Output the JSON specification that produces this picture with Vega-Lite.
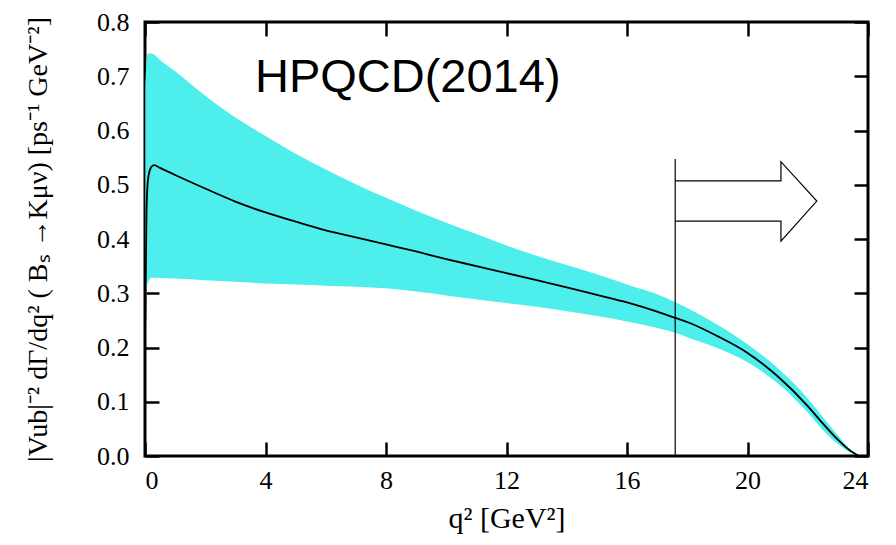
{
  "$schema": "https://vega.github.io/schema/vega-lite/v6.json",
  "width": 723,
  "height": 434,
  "autosize": "none",
  "padding": {"left": 145, "top": 22, "right": 28, "bottom": 89},
  "background": "white",
  "config": {
    "view": {"stroke": "black", "strokeWidth": 3},
    "axis": {
      "domain": false,
      "grid": false,
      "tickColor": "black",
      "tickWidth": 2.5,
      "tickSize": 14,
      "offset": -14,
      "labelFont": "Liberation Serif",
      "labelFontSize": 26,
      "labelColor": "black",
      "titleFont": "Liberation Serif",
      "titleFontSize": 28,
      "titleFontWeight": "normal",
      "titleColor": "black"
    }
  },
  "datasets": {
    "band": [
      {"q2": 0.01, "lower": 0.25, "central": 0.25, "upper": 0.68},
      {"q2": 0.05, "lower": 0.30, "central": 0.45, "upper": 0.73},
      {"q2": 0.1, "lower": 0.32, "central": 0.51, "upper": 0.742},
      {"q2": 0.2, "lower": 0.328, "central": 0.532, "upper": 0.742},
      {"q2": 0.3, "lower": 0.3285, "central": 0.536, "upper": 0.740},
      {"q2": 0.5, "lower": 0.328, "central": 0.531, "upper": 0.73},
      {"q2": 1, "lower": 0.327, "central": 0.518, "upper": 0.709},
      {"q2": 2, "lower": 0.324, "central": 0.493, "upper": 0.664},
      {"q2": 3, "lower": 0.321, "central": 0.469, "upper": 0.624},
      {"q2": 4, "lower": 0.318, "central": 0.449, "upper": 0.590},
      {"q2": 5, "lower": 0.316, "central": 0.432, "upper": 0.557},
      {"q2": 6, "lower": 0.314, "central": 0.416, "upper": 0.528},
      {"q2": 7, "lower": 0.312, "central": 0.403, "upper": 0.501},
      {"q2": 8, "lower": 0.309, "central": 0.390, "upper": 0.476},
      {"q2": 9, "lower": 0.303, "central": 0.377, "upper": 0.452},
      {"q2": 10, "lower": 0.296, "central": 0.363, "upper": 0.430},
      {"q2": 11, "lower": 0.289, "central": 0.350, "upper": 0.409},
      {"q2": 12, "lower": 0.282, "central": 0.337, "upper": 0.388},
      {"q2": 13, "lower": 0.275, "central": 0.324, "upper": 0.369},
      {"q2": 14, "lower": 0.267, "central": 0.311, "upper": 0.352},
      {"q2": 15, "lower": 0.258, "central": 0.297, "upper": 0.335},
      {"q2": 16, "lower": 0.248, "central": 0.283, "upper": 0.316},
      {"q2": 17, "lower": 0.236, "central": 0.266, "upper": 0.298},
      {"q2": 17.6, "lower": 0.227, "central": 0.2545, "upper": 0.2835},
      {"q2": 18, "lower": 0.219, "central": 0.247, "upper": 0.273},
      {"q2": 19, "lower": 0.199, "central": 0.221, "upper": 0.242},
      {"q2": 20, "lower": 0.173, "central": 0.190, "upper": 0.206},
      {"q2": 21, "lower": 0.134, "central": 0.147, "upper": 0.162},
      {"q2": 22, "lower": 0.080, "central": 0.092, "upper": 0.106},
      {"q2": 22.5, "lower": 0.048, "central": 0.060, "upper": 0.072},
      {"q2": 23, "lower": 0.022, "central": 0.030, "upper": 0.038},
      {"q2": 23.4, "lower": 0.007, "central": 0.010, "upper": 0.013},
      {"q2": 23.7, "lower": 0.0, "central": 0.0, "upper": 0.0}
    ],
    "arrow": [
      {"order": 1, "q2": 17.6, "v": 0.507},
      {"order": 2, "q2": 21.11, "v": 0.507},
      {"order": 3, "q2": 21.11, "v": 0.5425},
      {"order": 4, "q2": 22.30, "v": 0.470},
      {"order": 5, "q2": 21.11, "v": 0.396},
      {"order": 6, "q2": 21.11, "v": 0.433},
      {"order": 7, "q2": 17.6, "v": 0.433}
    ],
    "cut": [
      {"q2": 17.6, "v0": 0.0, "v1": 0.5475}
    ],
    "label": [
      {"q2": 3.65, "v": 0.671, "text": "HPQCD(2014)"}
    ]
  },
  "resolve": {"axis": {"x": "independent", "y": "independent"}},
  "layer": [
    {
      "data": {"name": "band"},
      "mark": {"type": "area", "color": "#4eeeec", "opacity": 1, "interpolate": "monotone"},
      "encoding": {
        "x": {
          "field": "q2", "type": "quantitative",
          "scale": {"domain": [0, 24], "nice": false, "zero": false},
          "axis": {
            "orient": "bottom",
            "values": [0, 4, 8, 12, 16, 20, 24],
            "labelPadding": 11,
            "title": "q² [GeV²]",
            "titleFontSize": 30,
            "titlePadding": 10
          }
        },
        "y": {
          "field": "lower", "type": "quantitative",
          "scale": {"domain": [0, 0.8], "nice": false},
          "axis": {
            "orient": "left",
            "values": [0, 0.1, 0.2, 0.3, 0.4, 0.5, 0.6, 0.7, 0.8],
            "format": ".1f",
            "labelPadding": 16,
            "title": "|Vub|⁻² dΓ/dq² ( Bₛ →Kμν)  [ps⁻¹ GeV⁻²]",
            "titlePadding": 44
          }
        },
        "y2": {"field": "upper"}
      }
    },
    {
      "data": {"name": "band"},
      "mark": {"type": "line", "color": "black", "strokeWidth": 1.8, "interpolate": "monotone"},
      "encoding": {
        "x": {
          "field": "q2", "type": "quantitative",
          "scale": {"domain": [0, 24], "nice": false, "zero": false},
          "axis": {"orient": "top", "values": [0, 4, 8, 12, 16, 20, 24], "labels": false, "title": null}
        },
        "y": {
          "field": "central", "type": "quantitative",
          "scale": {"domain": [0, 0.8], "nice": false},
          "axis": {"orient": "right", "values": [0, 0.1, 0.2, 0.3, 0.4, 0.5, 0.6, 0.7, 0.8], "labels": false, "title": null}
        }
      }
    },
    {
      "data": {"name": "cut"},
      "mark": {"type": "rule", "color": "black", "strokeWidth": 1.2},
      "encoding": {
        "x": {"field": "q2", "type": "quantitative", "axis": null},
        "y": {"field": "v0", "type": "quantitative", "axis": null},
        "y2": {"field": "v1"}
      }
    },
    {
      "data": {"name": "arrow"},
      "mark": {"type": "line", "color": "black", "strokeWidth": 1.2},
      "encoding": {
        "x": {"field": "q2", "type": "quantitative", "axis": null},
        "y": {"field": "v", "type": "quantitative", "axis": null},
        "order": {"field": "order", "type": "quantitative"}
      }
    },
    {
      "data": {"name": "label"},
      "mark": {"type": "text", "align": "left", "baseline": "alphabetic", "font": "Liberation Sans", "fontSize": 47, "color": "black"},
      "encoding": {
        "x": {"field": "q2", "type": "quantitative", "axis": null},
        "y": {"field": "v", "type": "quantitative", "axis": null},
        "text": {"field": "text"}
      }
    }
  ]
}
